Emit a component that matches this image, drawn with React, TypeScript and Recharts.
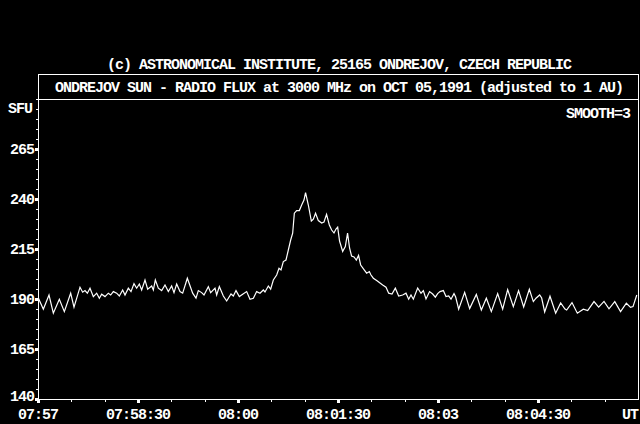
import React from "react";
import { LineChart, Line, XAxis, YAxis, ReferenceArea } from "recharts";

// seconds after 07:57:00 UT
const TIMES = [
  0.3, 4.8, 9.9, 13.8, 19.2, 23.7, 29.4, 32.4, 37.8, 40.2, 42.3, 44.4, 46.8, 49.8, 52.8, 55.2, 57.3, 60.3, 63.3, 65.4,
  67.8, 70.8, 73.2, 76.2, 78.3, 81.3, 83.7, 86.4, 88.8, 91.2, 93.3, 96.3, 98.7, 102.3, 103.8, 105.6, 108.3, 111.3, 114.3, 117.3,
  120.3, 122.4, 124.8, 127.8, 130.2, 134.4, 139.2, 142.2, 144.3, 147.3, 149.4, 153.3, 155.4, 159.3, 160.8, 163.2, 166.8, 169.8, 173.7, 175.8,
  178.2, 181.2, 184.2, 187.8, 190.8, 193.8, 196.8, 199.8, 202.8, 204.3, 207.3, 209.4, 211.8, 214.8, 216.9, 218.7, 220.8, 223.2, 225.3, 227.4,
  229.2, 230.7, 232.8, 235.2, 237.3, 239.4, 240.8, 243.3, 246, 247.8, 249.8, 252.3, 255.3, 257.4, 259.7, 262.2, 264.3, 266.4, 268.2, 269.7,
  271.4, 274.2, 276.6, 278.6, 280.4, 282.2, 284.4, 286.5, 288.5, 290.4, 293.9, 295.8, 298.2, 299.7, 301.8, 304.8, 307.2, 310.2, 313.2, 315.6,
  318.6, 321.6, 324.6, 328.2, 331.2, 333.6, 335.7, 337.8, 341.7, 344.7, 346.8, 349.2, 352.4, 355.2, 357.6, 359.7, 361.8, 364.8, 367.2, 369.6,
  371.7, 374.4, 375.9, 378.6, 384, 388.5, 394.5, 399, 403.5, 408, 413.7, 418.2, 422.7, 427.8, 432.5, 437.1, 442.2, 445.8, 448.2, 451.5,
  453.3, 456, 460.8, 465.9, 470.4, 474.3, 475.8, 480.6, 485.4, 490.8, 494.7, 500.4, 504.6, 509.4, 513.9, 519.1, 524.3, 529.5, 533.3, 535.5,
  538.9,
];

// radio flux, SFU
const FLUX = [
  190.5, 184.9, 192, 182.9, 189.9, 183.7, 192.9, 185.9, 195.9, 193.4, 194.2, 192.9, 195.4, 191.2, 192.9, 190.4, 192.4, 191.2, 192.9, 192,
  193.7, 192.9, 191.5, 194.5, 192, 195.4, 193.7, 197.7, 195.4, 197.5, 194.5, 199.5, 194.9, 196.5, 194.5, 199.5, 195.4, 194.2, 197, 193.7,
  196.5, 193.2, 197.5, 193.7, 192.9, 200.4, 192.9, 190.4, 194.2, 193.2, 192, 196.2, 193.2, 195.4, 192, 196.2, 191.5, 189, 192.5, 191.5,
  194.2, 191.2, 192.4, 193.7, 189.9, 190.4, 193.7, 192.9, 194.5, 193.5, 196.5, 194.9, 199.5, 202, 205.4, 204.5, 208.7, 209.5, 214.5, 219.5,
  222.9, 232.9, 234.2, 234.2, 237, 239.5, 243.2, 237, 229, 229.9, 232.9, 229.2, 228, 228.5, 232.3, 227, 224.5, 223, 225, 225.9,
  219, 213.8, 216.2, 222.9, 215.5, 211.5, 211, 209.5, 211.8, 207, 204.3, 202.9, 203.7, 202, 200.4, 199.2, 198.2, 197, 195.9, 192.9,
  192.5, 195.4, 191.5, 192, 192.9, 189.9, 192, 189.9, 195.5, 192.9, 194.2, 190, 193.7, 192.5, 190.9, 192.7, 193.7, 194.2, 191.2, 191.5,
  189.9, 192.7, 191, 184.9, 193.3, 185.2, 192.3, 184.5, 190.4, 183.7, 192.7, 184.9, 194.7, 186.2, 194.2, 186, 194.9, 188.7, 190.4, 192,
  190.5, 183.5, 191.4, 182.9, 188, 185, 184.5, 188.2, 182.9, 184.9, 184.2, 188.7, 185.9, 188.8, 185.1, 188.7, 183.7, 187.9, 185.8, 186.2,
  192,
];

const Y_TICKS = [
  140, 145, 150, 155, 160, 165, 170, 175, 180, 185, 190, 195, 200, 205, 210, 215,
  220, 225, 230, 235, 240, 245, 250, 255, 260, 265, 270, 275, 280, 285, 290,
];
const Y_LABELS: Record<number, string> = { 140: "140", 165: "165", 190: "190", 215: "215", 240: "240", 265: "265" };

const X_TICKS = [0, 30, 60, 90, 120, 150, 180, 210, 240, 270, 300, 330, 360, 390, 420, 450, 480, 510, 540];
const X_LABELS: Record<number, string> = {
  0: "07:57", 90: "07:58:30", 180: "08:00", 270: "08:01:30", 360: "08:03", 450: "08:04:30", 540: "UT",
};

const COPYRIGHT = "(c) ASTRONOMICAL INSTITUTE, 25165 ONDREJOV, CZECH REPUBLIC";
const TITLE = "ONDREJOV SUN - RADIO FLUX at 3000 MHz on OCT 05,1991 (adjusted to 1 AU)";
const UNIT = "SFU";
const NOTE = "SMOOTH=3";

const data = TIMES.map((t, i) => ({ t, flux: FLUX[i] }));

const FONT: React.CSSProperties = {
  fontFamily: "'Liberation Mono', 'DejaVu Sans Mono', monospace",
  fontWeight: 700,
  fontSize: 15,
  letterSpacing: -1,
};

const YTick = (props: any) => {
  const { x, y, payload } = props;
  const v = payload.value;
  const label = Y_LABELS[v];
  if (label) {
    const ty = v === 140 ? y + 2 : y + 5;
    return (
      <g>
        <rect x={x - 3} y={y - 1} width={3} height={3} fill="#fff" shapeRendering="crispEdges" />
        <text x={x - 4} y={ty} textAnchor="end" fill="#fff" style={FONT}>{label}</text>
      </g>
    );
  }
  return <rect x={x - 2} y={y} width={2} height={1} fill="#fff" shapeRendering="crispEdges" />;
};

const XTick = (props: any) => {
  const { x, y, payload } = props;
  const v = payload.value;
  const label = X_LABELS[v];
  if (label !== undefined) {
    const isEnd = v === 540;
    return (
      <g>
        {!isEnd && <rect x={x - 1} y={y + 1} width={3} height={3} fill="#fff" shapeRendering="crispEdges" />}
        <text x={x} y={y + 20} textAnchor={isEnd ? "end" : "middle"} fill="#fff" style={FONT}>{label}</text>
      </g>
    );
  }
  return <rect x={x} y={y + 1} width={1} height={2} fill="#fff" shapeRendering="crispEdges" />;
};

export default function App() {
  return (
    <div style={{ position: "absolute", left: 0, top: 0, width: 640, height: 424, background: "#000", overflow: "hidden" }}>
      <LineChart width={640} height={424} data={data} margin={{ top: 99, right: 2, bottom: 0, left: 0 }}>
        <XAxis
          dataKey="t"
          type="number"
          domain={[0, 540]}
          ticks={X_TICKS}
          interval={0}
          height={25}
          tickSize={0}
          tickMargin={0}
          axisLine={false}
          tickLine={false}
          tick={<XTick />}
          allowDataOverflow
        />
        <YAxis
          type="number"
          domain={[140, 290]}
          ticks={Y_TICKS}
          interval={0}
          width={38}
          tickSize={0}
          tickMargin={0}
          axisLine={false}
          tickLine={false}
          tick={<YTick />}
          allowDataOverflow
        />
        <ReferenceArea
          x1={0}
          x2={540}
          y1={140}
          y2={290}
          fill="none"
          fillOpacity={0}
          stroke="#fff"
          strokeWidth={1}
          strokeOpacity={1}
          ifOverflow="visible"
          shapeRendering="crispEdges"
        />
        <Line
          type="linear"
          dataKey="flux"
          stroke="#fff"
          strokeWidth={1.2}
          dot={false}
          activeDot={false}
          isAnimationActive={false}
        />
      </LineChart>
      <svg width={640} height={424} style={{ position: "absolute", left: 0, top: 0, pointerEvents: "none" }}>
        <text x={339} y={69} textAnchor="middle" fill="#fff" style={FONT}>{COPYRIGHT}</text>
        <path d="M38.5 99 V74.5 H638.5 V99" stroke="#fff" strokeWidth={1} fill="none" shapeRendering="crispEdges" />
        <text x={339} y={92} textAnchor="middle" fill="#fff" style={FONT}>{TITLE}</text>
        <text x={630} y={118} textAnchor="end" fill="#fff" style={FONT}>{NOTE}</text>
        <text x={8} y={113} textAnchor="start" fill="#fff" style={FONT}>{UNIT}</text>
      </svg>
    </div>
  );
}
